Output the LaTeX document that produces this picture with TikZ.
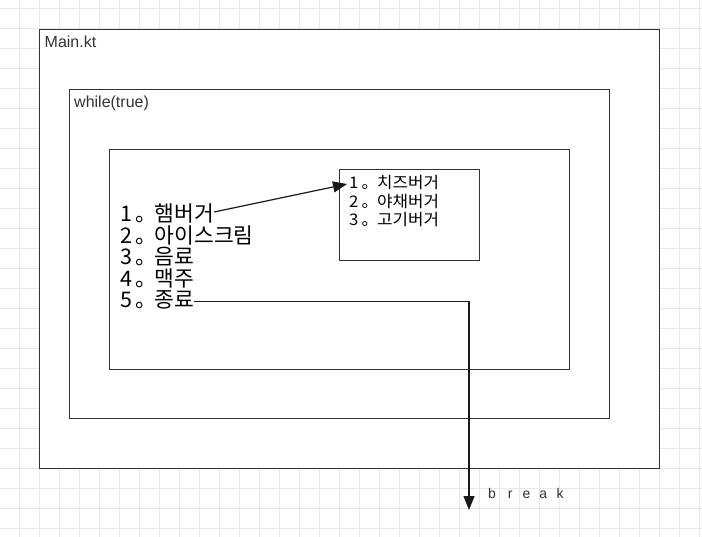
\documentclass[tikz,border=0pt]{standalone}
\usepackage{fontspec}
\setmainfont{Liberation Sans}
\newfontfamily\krfont{Noto Sans CJK KR}
\newfontfamily\krsubfont[FakeStretch=1.05]{Noto Sans CJK KR}
\usetikzlibrary{arrows.meta}
\newcommand{\bignum}[1]{\makebox[34.5pt][l]{#1\hskip3.75pt 。}}
\newcommand{\smallnum}[1]{\makebox[28pt][l]{#1\hskip3pt 。}}
\begin{document}
\begin{tikzpicture}[x=1pt,y=-1pt,
  gridline/.style={draw=black!9, line width=1pt},
  box/.style={draw=black!80, line width=1.2pt, fill=white, anchor=north west, inner sep=0pt},
  lbl/.style={anchor=base west, inner sep=0pt, text=black!80, font=\fontsize{16}{19}\selectfont},
  menu/.style={anchor=base west, inner sep=0pt, font=\krfont\fontsize{21.5}{24}\selectfont},
  sub/.style={anchor=base west, inner sep=0pt, font=\krsubfont\fontsize{16}{18}\selectfont},
  conn/.style={draw=black!90, line width=1.2pt, -{Triangle[length=14pt,width=11pt]}}
]
\useasboundingbox (0,0) rectangle (702,537);
\fill[white] (0,0) rectangle (702,537);
\foreach \x in {19,39,...,699} \draw[gridline] (\x,0) -- (\x,537);
\foreach \y in {8.5,28.5,...,528.5} \draw[gridline] (0,\y) -- (702,\y);

\node[box, minimum width=620pt, minimum height=439pt] (main) at (39,29) {};
\node[box, minimum width=540pt, minimum height=329pt] (loop) at (69,89) {};
\node[box, minimum width=460pt, minimum height=220pt] (menubox) at (109,149) {};
\node[box, minimum width=140pt, minimum height=91pt] (subbox) at (339,169) {};

\node[lbl] (mainlbl) at (44.5,48) {Main.kt};
\node[lbl] (looplbl) at (74,107.5) {while(true)};

\node[menu] (m1) at (120,221.5) {\bignum{1}햄버거};
\node[menu] (m2) at (120,243.1) {\bignum{2}아이스크림};
\node[menu] (m3) at (120,264.7) {\bignum{3}음료};
\node[menu] (m4) at (120,286.3) {\bignum{4}맥주};
\node[menu] (m5) at (120,308) {\bignum{5}종료};

\node[sub] (s1) at (349,189) {\smallnum{1}치즈버거};
\node[sub] (s2) at (349,207.5) {\smallnum{2}야채버거};
\node[sub] (s3) at (349,226) {\smallnum{3}고기버거};

\coordinate (brk) at (469,510);
\draw[conn] ([yshift=1.5pt]m1.east) -- ([xshift=-2pt,yshift=-1pt]s1.west);
\draw[conn] ([yshift=-1pt]m5.east) -| (brk);

\node[anchor=base west, inner sep=0pt, text=black!80, font=\fontsize{14}{16}\selectfont] (brklbl) at (488,498) {b\hskip12pt r\hskip10pt e\hskip9pt a\hskip9.5pt k};
\end{tikzpicture}
\end{document}
